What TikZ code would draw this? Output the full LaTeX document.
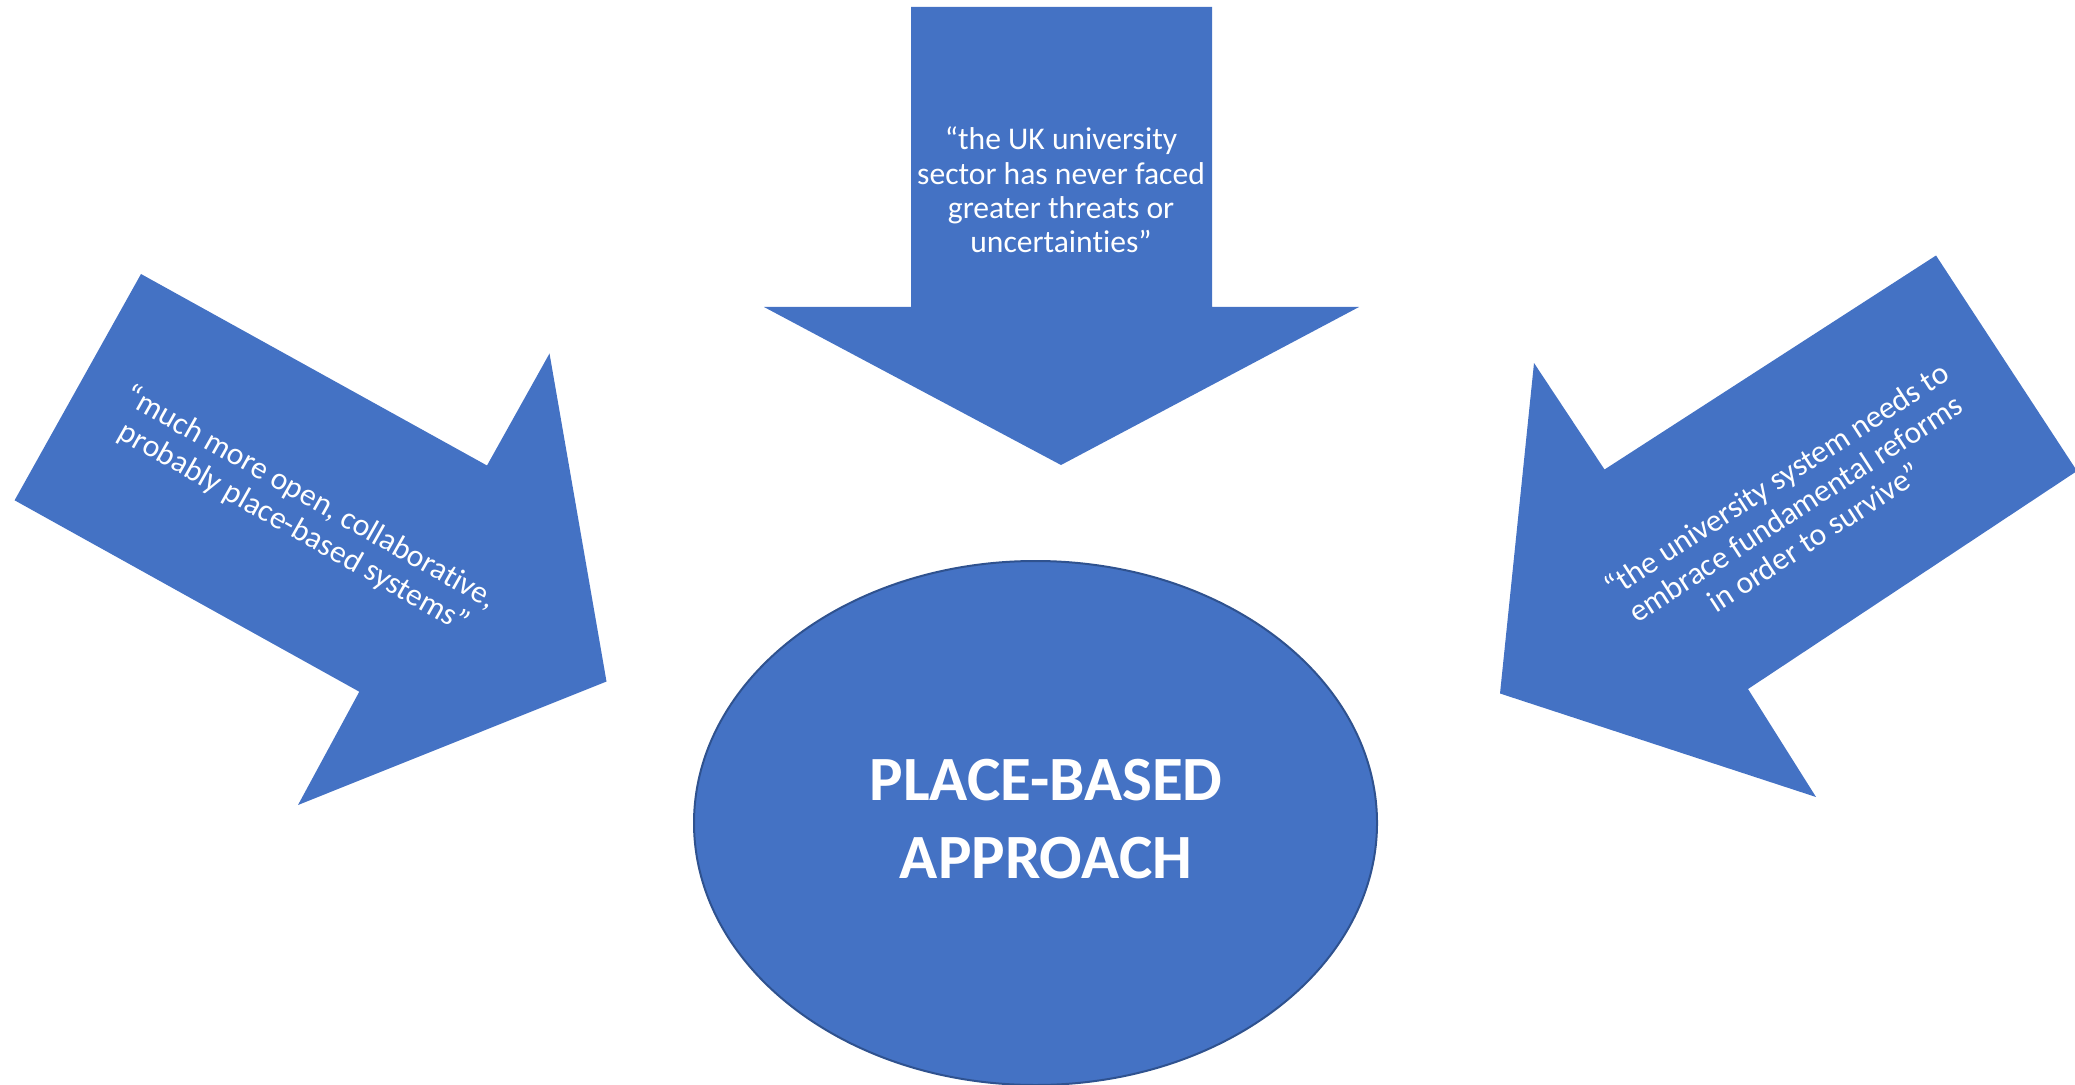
\documentclass[tikz,border=0pt]{standalone}
\usepackage{fontspec}
\setmainfont{Carlito}[Ligatures={NoCommon}]
\usetikzlibrary{shapes.geometric}
\definecolor{pptblue}{HTML}{4472C4}
\definecolor{pptedge}{HTML}{2F528F}
\begin{document}
\begin{tikzpicture}[x=0.5pt,y=-0.5pt,
  arrowshape/.style={fill=pptblue},
  quote/.style={text=white, font=\fontsize{15.8pt}{17.2pt}\selectfont, align=center, inner sep=0pt},
  hubstyle/.style={ellipse, draw=pptedge, line width=1pt, fill=pptblue, minimum width=341.5pt, minimum height=262pt, inner sep=0pt},
  hublabel/.style={text=white, font=\fontsize{31.5pt}{39pt}\selectfont\bfseries, align=center, inner sep=0pt}]
\useasboundingbox (0,0) rectangle (2075,1085);
% top arrow
\fill[arrowshape] (911,7) -- (1212,7) -- (1212,307) -- (1359,307) -- (1061,465) -- (764,307) -- (911,307) -- cycle;
\node[quote] (topquote) at (1061,190) {“the UK university\\sector has never faced\\greater threats or\\uncertainties”};
% left arrow
\fill[arrowshape] (141,274) -- (487,465.5) -- (549.5,353.5) -- (606.5,681.5) -- (298,805) -- (359.3,691.7) -- (14.6,500.3) -- cycle;
\node[quote, rotate=-29.5] (leftquote) at (302,513) {“much more open, collaborative,\\probably place-based systems”};
% right arrow
\fill[arrowshape] (1936,255.5) -- (2077,471) -- (1748,689) -- (1816,797) -- (1500,693.5) -- (1534,363) -- (1604.5,469.5) -- cycle;
\node[quote, rotate=33] (rightquote) at (1795,508) {“the university system needs to\\embrace fundamental reforms\\in order to survive”};
% central ellipse
\node[hubstyle] (hub) at (1035.5,823) {};
\node[hublabel] (hubtext) at (1046,819) {PLACE-BASED\\APPROACH};
\end{tikzpicture}
\end{document}
